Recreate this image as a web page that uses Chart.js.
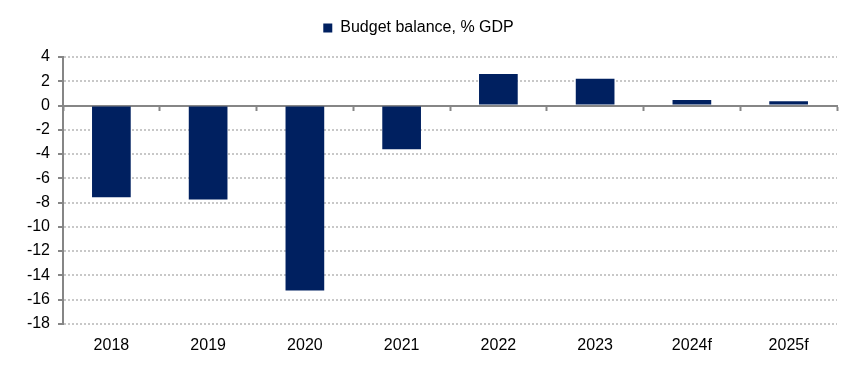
<!DOCTYPE html>
<html>
<head>
<meta charset="utf-8">
<script src="https://cdn.jsdelivr.net/npm/chart.js@4"></script>
<style>
  body { margin: 0; background: #fff; }
  #wrap { width: 855px; height: 375px; }
</style>
</head>
<body>
<div id="wrap"><canvas id="budget_chart"></canvas></div>
<script>
const years = ['2018', '2019', '2020', '2021', '2022', '2023', '2024f', '2025f'];
const budgetBalance = [-7.57, -7.76, -15.25, -3.6, 2.6, 2.2, 0.45, 0.35];
const seriesLabel = 'Budget balance, % GDP';

const navy = 'rgb(0, 32, 96)';
const axisGrey = '#868686';
const font = { family: 'Arial, "Liberation Sans", sans-serif', size: 16 };

const chartData = {
    labels: years,
    datasets: [
        {
            label: seriesLabel,
            data: budgetBalance,
            backgroundColor: navy,
            borderWidth: 0,
            barPercentage: 0.4,
            categoryPercentage: 1,
            xAxisID: 'x'
        }
    ]
};

// push the plot down a little below the legend
const legendGap = {
    id: 'legendGap',
    beforeInit(chart) {
        const fit = chart.legend.fit;
        chart.legend.fit = function () {
            fit.bind(chart.legend)();
            this.height += 11;
        };
    }
};

const chartOptions = {
    responsive: true,
    maintainAspectRatio: false,
    animation: false,
    layout: {
        padding: { top: 10, right: 18, bottom: 16, left: 0 }
    },
    plugins: {
        legend: {
            labels: {
                boxWidth: 9,
                boxHeight: 9,
                padding: 10,
                color: '#000',
                font: font
            }
        },
        tooltip: { enabled: false }
    },
    scales: {
        x: {
            type: 'category',
            position: 'bottom',
            grid: { display: false },
            border: { display: false },
            ticks: { color: '#000', font: font, padding: 4 }
        },
        x0: {
            type: 'category',
            position: { y: 0 },
            grid: {
                offset: true,
                drawOnChartArea: false,
                drawTicks: true,
                tickLength: 4,
                tickColor: axisGrey,
                tickWidth: 2
            },
            border: { display: true, color: axisGrey, width: 2 },
            ticks: { display: false }
        },
        y: {
            min: -18,
            max: 4,
            ticks: { stepSize: 2, color: '#000', font: font, padding: 8 },
            grid: {
                color: (ctx) => ctx.tick && ctx.tick.value === 0 ? 'rgba(0,0,0,0)' : '#c8c8c8',
                lineWidth: 2,
                tickColor: axisGrey,
                tickBorderDash: [],
                tickLength: 5,
                tickWidth: 2
            },
            border: { color: axisGrey, width: 2, dash: [2, 2] },
            afterFit: (scale) => { scale.width = 63; }
        }
    }
};

new Chart(document.getElementById('budget_chart'), {
    type: 'bar',
    data: chartData,
    options: chartOptions,
    plugins: [legendGap]
});
</script>
</body>
</html>
